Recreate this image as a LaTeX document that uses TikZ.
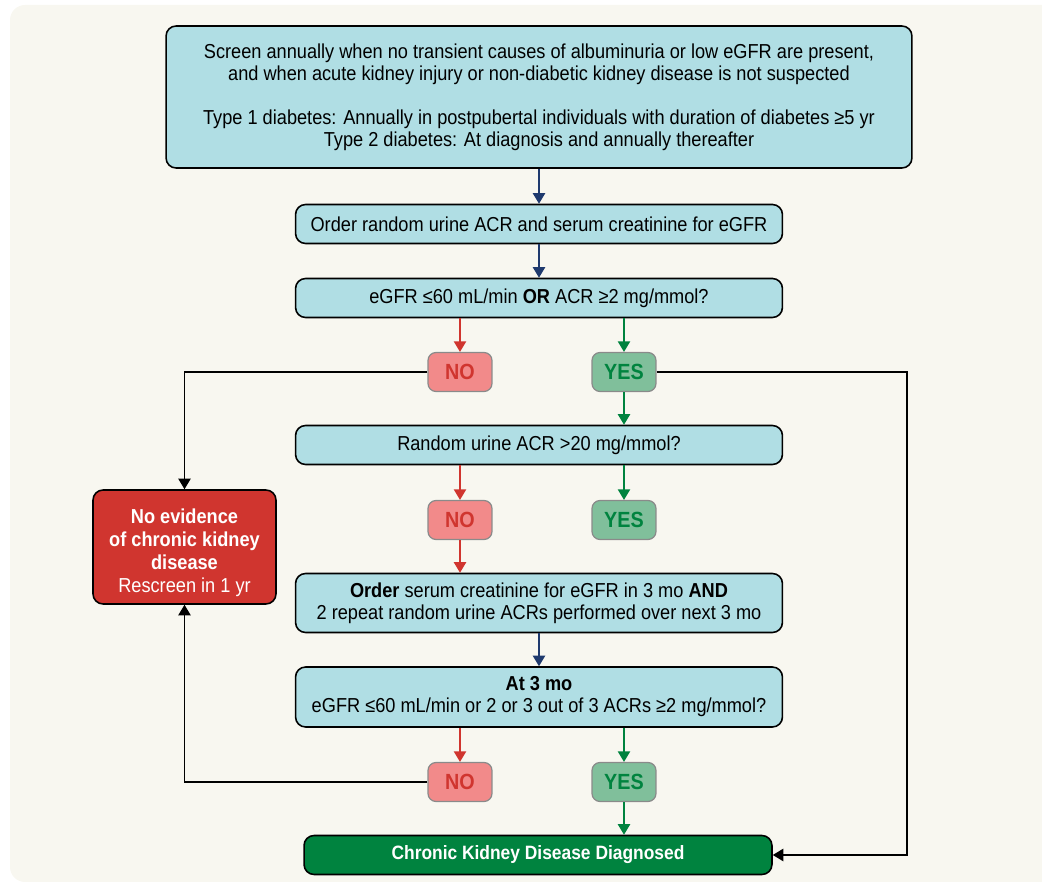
\documentclass[tikz,border=0pt]{standalone}
\usepackage{fontspec}
\setmainfont{Liberation Sans}[FakeStretch=0.9]
\usetikzlibrary{arrows.meta, positioning, calc}

\begin{document}
\begin{tikzpicture}[
    x=0.02cm, y=-0.02cm,
    every node/.style={font=\fontsize{11.5}{12.5}\selectfont},
]

% ---------------------------------------------------------------- colours
\definecolor{bgcream}{HTML}{F8F7F0}
\definecolor{boxblue}{HTML}{B0DEE4}   % the steps and questions
\definecolor{navy}{HTML}{1F3A6E}
\definecolor{nored}{HTML}{D0352F}
\definecolor{nofill}{HTML}{F28A8A}
\definecolor{yesgreen}{HTML}{00833F}
\definecolor{yesfill}{HTML}{80BF9B}
\definecolor{pillgray}{HTML}{8A8A8A}

\tikzset{
    stepbox/.style={draw=black, line width=0.9pt, fill=boxblue, rounded corners=0.2cm,
        minimum width=9.74cm, minimum height=0.78cm, align=center, inner sep=2pt},
    nobox/.style={draw=pillgray, line width=0.7pt, fill=nofill, text=nored, rounded corners=0.16cm,
        minimum width=1.28cm, minimum height=0.78cm, font=\fontsize{12.5}{14}\selectfont\bfseries},
    yesbox/.style={nobox, fill=yesfill, text=yesgreen},
    flow/.style={-{Triangle[length=6pt, width=7pt]}, line width=0.8pt, navy},
    noflow/.style={flow, nored},
    yesflow/.style={flow, yesgreen},
    back/.style={flow, black},
}

\useasboundingbox (0,0) rectangle (1042,884);
\fill[bgcream, rounded corners=0.3cm] (10,5) rectangle (1070,882);

% ================================================================
% main column at x = 539, NO at 460, YES at 624 (pixel units)
% ================================================================
\node[stepbox, minimum width=14.92cm, minimum height=2.84cm] (screen) at (539, 97)
    {Screen annually when no transient causes of albuminuria or low eGFR are present,\\
     and when acute kidney injury or non-diabetic kidney disease is not suspected\\[12.5pt]
     Type 1 diabetes: Annually in postpubertal individuals with duration of diabetes ≥5 yr\\
     Type 2 diabetes: At diagnosis and annually thereafter};

\node[stepbox] (order) at (539, 224)
    {Order random urine ACR and serum creatinine for eGFR};
\node[stepbox] (egfr) at (539, 298)
    {eGFR ≤60 mL/min \textbf{OR} ACR ≥2 mg/mmol?};

\node[nobox] (no1) at (460, 372) {NO};
\node[yesbox] (yes1) at (624, 372) {YES};

\node[stepbox] (acr) at (539, 445) {Random urine ACR >20 mg/mmol?};

\node[nobox] (no2) at (460, 520) {NO};
\node[yesbox] (yes2) at (624, 520) {YES};

\node[stepbox, minimum height=1.18cm] (repeat) at (539, 603)
    {\textbf{Order} serum creatinine for eGFR in 3 mo \textbf{AND}\\
     2 repeat random urine ACRs performed over next 3 mo};
\node[stepbox, minimum height=1.2cm] (atthree) at (539, 697)
    {\textbf{At 3 mo}\\
     eGFR ≤60 mL/min or 2 or 3 out of 3 ACRs ≥2 mg/mmol?};

\node[nobox] (no3) at (460, 782) {NO};
\node[yesbox] (yes3) at (624, 782) {YES};

% ---------------------------------------------------------------- outcomes
\node[draw=black, line width=0.9pt, fill=nored, text=white, rounded corners=0.2cm,
    minimum width=3.66cm, minimum height=2.28cm, align=center,
    font=\fontsize{11.5}{13}\selectfont] (nockd) at (184.5, 547)
    {\rule{0pt}{15pt}\textbf{No evidence}\\ \textbf{of chronic kidney}\\ \textbf{disease}\\ Rescreen in 1 yr};

\node[draw=black, line width=0.9pt, fill=yesgreen, text=white, rounded corners=0.2cm,
    minimum width=9.36cm, minimum height=0.78cm,
    font=\fontsize{11}{13}\selectfont\bfseries] (ckd) at (538, 855)
    {Chronic Kidney Disease Diagnosed};

\coordinate (rside) at (907, 372);

% ---------------------------------------------------------------- arrows
\draw[flow] (screen) -- (order);
\draw[flow] (order) -- (egfr);
\draw[noflow] (egfr.south -| no1) -- (no1);
\draw[yesflow] (egfr.south -| yes1) -- (yes1);
\draw[yesflow] (yes1) -- (acr.north -| yes1);
\draw[noflow] (acr.south -| no2) -- (no2);
\draw[yesflow] (acr.south -| yes2) -- (yes2);
\draw[noflow] (no2) -- (repeat.north -| no2);
\draw[flow] (repeat) -- (atthree);
\draw[noflow] (atthree.south -| no3) -- (no3);
\draw[yesflow] (atthree.south -| yes3) -- (yes3);
\draw[yesflow] (yes3) -- (ckd.north -| yes3);

\draw[back] (no1.west) -| (nockd.north);
\draw[back] (no3.west) -| (nockd.south);
\draw[back] (yes1.east) -- (rside) |- (ckd.east);

\end{tikzpicture}
\end{document}
